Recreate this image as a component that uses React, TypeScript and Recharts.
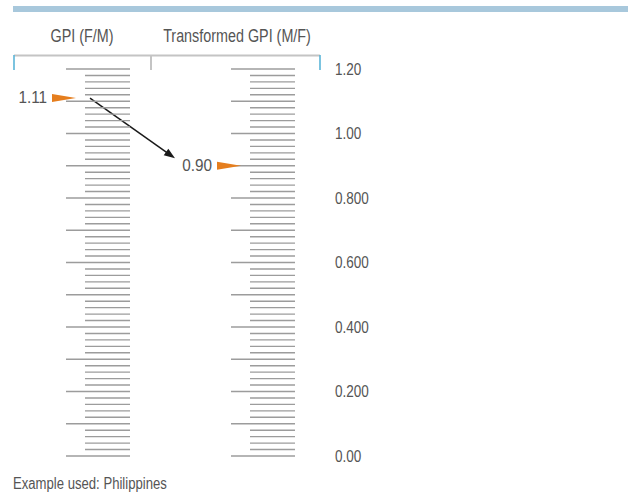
import React from "react";
import {
  ComposedChart,
  XAxis,
  YAxis,
  Scatter,
  ReferenceLine,
  Customized,
} from "recharts";

// ---------- data ----------
const columns = ["GPI (F/M)", "Transformed GPI (M/F)"];
const markerValues = [1.11, 0.9];
const markerLabels = ["1.11", "0.90"];
const rungValues = [
  0, 0.02, 0.04, 0.06, 0.08, 0.1, 0.12, 0.14, 0.16, 0.18, 0.2, 0.22, 0.24, 0.26,
  0.28, 0.3, 0.32, 0.34, 0.36, 0.38, 0.4, 0.42, 0.44, 0.46, 0.48, 0.5, 0.52,
  0.54, 0.56, 0.58, 0.6, 0.62, 0.64, 0.66, 0.68, 0.7, 0.72, 0.74, 0.76, 0.78,
  0.8, 0.82, 0.84, 0.86, 0.88, 0.9, 0.92, 0.94, 0.96, 0.98, 1.0, 1.02, 1.04,
  1.06, 1.08, 1.1, 1.12, 1.14, 1.16, 1.18, 1.2,
];
const axisTicks = [0, 0.2, 0.4, 0.6, 0.8, 1.0, 1.2];
const axisTickLabels = ["0.00", "0.200", "0.400", "0.600", "0.800", "1.00", "1.20"];
const noteText = "Example used: Philippines";

// ---------- styles ----------
const W = 628;
const H = 492;
const FONT = "'Liberation Sans', Arial, sans-serif";
const SQUEEZE = 0.82;
const TEXT = "#555555";
const ORANGE = "#E57E1E";
const RUNG = "#9c9c9c";
const LADDER_SHIFT = [-24.5, -12.5];
const TITLE_SHIFT = [-8.5, -6.5];

const isMajor = (v: number) => Math.abs(v * 10 - Math.round(v * 10)) < 1e-6;

const chartData = columns.map((col) => ({ col }));
const rungData = columns.flatMap((col, ci) =>
  rungValues.map((v) => ({ col, ci, v, major: isMajor(v) }))
);
const markerData = columns.map((col, ci) => ({
  col,
  ci,
  v: markerValues[ci],
  label: markerLabels[ci],
}));

const CText = ({ x, y, anchor = "start", size = 16, squeeze = SQUEEZE, children }: any) => (
  <text
    transform={`translate(${x},${y}) scale(${squeeze},1)`}
    x={0}
    y={0}
    textAnchor={anchor}
    fontFamily={FONT}
    fontSize={size}
    fill={TEXT}
  >
    {children}
  </text>
);

const RungShape = (p: any) => {
  const { cx, cy, payload } = p;
  if (cx == null || cy == null) return null;
  const L = cx + LADDER_SHIFT[payload.ci];
  const x1 = payload.major ? L : L + 19;
  return <line x1={x1} x2={L + 64} y1={cy} y2={cy} stroke={RUNG} strokeWidth={1.4} />;
};

const MarkerShape = (p: any) => {
  const { cx, cy, payload } = p;
  if (cx == null || cy == null) return null;
  const L = cx + LADDER_SHIFT[payload.ci];
  const tip = L + 10;
  const left = tip - 24;
  return (
    <g>
      <polygon points={`${left},${cy - 4} ${left},${cy + 4} ${tip},${cy}`} fill={ORANGE} />
      <CText x={left - 5} y={cy + 5} anchor="end" size={17} squeeze={0.9}>
        {payload.label}
      </CText>
    </g>
  );
};

const ArrowShape = (p: any) => {
  const { x1, y1, x2, y2 } = p;
  if (x1 == null || x2 == null) return null;
  const sx = x1 - 0.5;
  const sy = y1;
  const ex = x2 - 68.5;
  const ey = y2 - 7.5;
  const dx = ex - sx;
  const dy = ey - sy;
  const len = Math.sqrt(dx * dx + dy * dy);
  const ux = dx / len;
  const uy = dy / len;
  const headLen = 11;
  const headW = 4;
  const bx = ex - ux * headLen;
  const by = ey - uy * headLen;
  return (
    <g>
      <line x1={sx} y1={sy} x2={bx + ux * 2} y2={by + uy * 2} stroke="#1a1a1a" strokeWidth={1.5} />
      <polygon
        points={`${ex},${ey} ${bx - uy * headW},${by + ux * headW} ${bx + uy * headW},${by - ux * headW}`}
        fill="#1a1a1a"
      />
    </g>
  );
};

const Decor = () => (
  <g>
    <rect x={13} y={6} width={W - 13} height={6} fill="#A8C8DC" />
    <line x1={14} x2={320} y1={55.5} y2={55.5} stroke="#c4c4c4" strokeWidth={2} />
    <line x1={151} x2={151} y1={55} y2={70} stroke="#c4c4c4" strokeWidth={2} />
    <line x1={14} x2={14} y1={55} y2={70} stroke="#5BB5D8" strokeWidth={1.6} />
    <line x1={320} x2={320} y1={55} y2={70} stroke="#5BB5D8" strokeWidth={1.6} />
    <CText x={13} y={489} size={16}>
      {noteText}
    </CText>
  </g>
);

const TitleTick = (p: any) => {
  const { x, y, payload, index } = p;
  const i = columns.indexOf(payload.value);
  return (
    <CText x={x + TITLE_SHIFT[i >= 0 ? i : index]} y={y - 19.5} anchor="middle" size={17.5}>
      {payload.value}
    </CText>
  );
};

const ValueTick = (p: any) => {
  const { x, y, payload } = p;
  const i = axisTicks.indexOf(payload.value);
  return (
    <CText x={x} y={y + 5.5} size={16.5}>
      {i >= 0 ? axisTickLabels[i] : String(payload.value)}
    </CText>
  );
};

export default function App() {
  return (
    <div style={{ width: W, height: H, background: "#fff" }}>
      <style>{"body{margin:0;}"}</style>
      <ComposedChart
        width={W}
        height={H}
        data={chartData}
        margin={{ top: 29, right: 248, bottom: 36, left: 14 }}
      >
        <Customized component={Decor} />
        <XAxis
          dataKey="col"
          type="category"
          orientation="top"
          height={40}
          padding={{ left: 76.5, right: 76.5 }}
          allowDuplicatedCategory={false}
          axisLine={false}
          tickLine={false}
          tick={<TitleTick />}
          interval={0}
        />
        <YAxis
          yAxisId="y"
          orientation="right"
          type="number"
          domain={[0, 1.2]}
          ticks={axisTicks}
          width={60}
          axisLine={false}
          tickLine={false}
          tickSize={6}
          tickMargin={9}
          interval={0}
          tick={<ValueTick />}
        />
        <Scatter
          yAxisId="y"
          data={rungData}
          dataKey="v"
          shape={<RungShape />}
          isAnimationActive={false}
        />
        <ReferenceLine
          yAxisId="y"
          segment={[
            { x: columns[0], y: markerValues[0] },
            { x: columns[1], y: markerValues[1] },
          ]}
          ifOverflow="visible"
          isFront
          shape={<ArrowShape />}
        />
        <Scatter
          yAxisId="y"
          data={markerData}
          dataKey="v"
          shape={<MarkerShape />}
          isAnimationActive={false}
        />
      </ComposedChart>
    </div>
  );
}
